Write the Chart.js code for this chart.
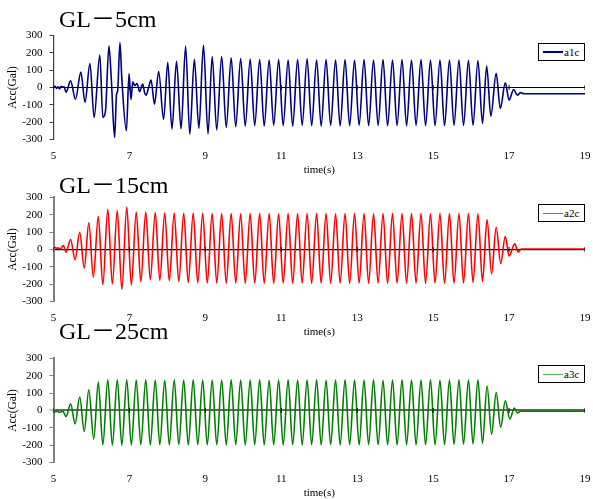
<!DOCTYPE html>
<html>
<head>
<meta charset="utf-8">
<script src="https://cdn.jsdelivr.net/npm/chart.js@4.4.1/dist/chart.umd.min.js"></script>
<style>
  html, body { margin:0; padding:0; background:#fff; }
  body { position:relative; width:593px; height:499px; overflow:hidden; }
  canvas { position:absolute; left:0; }
  .ttl { position:absolute; left:59px; font-family:'Liberation Serif','Noto Sans CJK JP','Times New Roman',serif; font-size:24px; line-height:24px; color:#000; white-space:nowrap; z-index:5; }
  .lg { position:absolute; left:538px; width:47px; height:18px; border:1px solid #000; background:#fff; box-sizing:border-box; z-index:5; }
  .lg .ln { position:absolute; left:4px; top:7.5px; width:20px; height:1.8px; }
  .lg .tx { position:absolute; left:25px; top:1px; font-family:'Liberation Serif','Times New Roman',serif; font-size:11px; line-height:14px; color:#000; }
</style>
</head>
<body>
<canvas id="c1" width="600" height="177" style="top:0px"></canvas>
<canvas id="c2" width="600" height="177" style="top:162px"></canvas>
<canvas id="c3" width="600" height="177" style="top:323px"></canvas>

<div class="ttl" style="top:7px">GL－5cm</div>
<div class="ttl" style="top:173px">GL－15cm</div>
<div class="ttl" style="top:318.5px">GL－25cm</div>

<div class="lg" style="top:42.5px"><div class="ln" style="background:#000080"></div><div class="tx">a1c</div></div>
<div class="lg" style="top:204px"><div class="ln" style="background:#f03c3c"></div><div class="tx">a2c</div></div>
<div class="lg" style="top:365px"><div class="ln" style="background:#4fae4f"></div><div class="tx">a3c</div></div>

<script>
// ---------- data ----------
const panelTitles = ['GL－5cm', 'GL－15cm', 'GL－25cm'];
const seriesNames = ['a1c', 'a2c', 'a3c'];
const xTickValues = [5, 7, 9, 11, 13, 15, 17, 19];
const yTickValues = [-300, -200, -100, 0, 100, 200, 300];

// a1c (GL-5cm): time (s) and acceleration (Gal) at extrema
const t1 = [5.00, 5.04, 5.08, 5.12, 5.16, 5.20, 5.24, 5.28, 5.33, 5.45, 5.58, 5.72, 5.83, 5.96, 6.07, 6.22, 6.30, 6.37, 6.46, 6.52,
  6.61, 6.66, 6.69, 6.75, 6.80, 6.92, 6.99, 7.04, 7.09, 7.14, 7.20, 7.27, 7.31, 7.35, 7.40, 7.44, 7.50, 7.57, 7.66, 7.77,
  7.90, 8.01, 8.12, 8.24, 8.36, 8.48, 8.59, 8.71, 8.83, 8.95, 9.07,
  9.18, 9.30, 9.43, 9.55, 9.68, 9.80, 9.93, 10.05, 10.18, 10.30, 10.43, 10.55, 10.68, 10.80, 10.93, 11.05, 11.18, 11.30, 11.43, 11.55,
  11.68, 11.80, 11.93, 12.05, 12.18, 12.30, 12.43, 12.55, 12.68, 12.80, 12.93, 13.05, 13.18, 13.30, 13.43, 13.55, 13.68, 13.80, 13.93, 14.05,
  14.18, 14.30, 14.43, 14.55, 14.68, 14.80, 14.93, 15.05, 15.18, 15.30, 15.43, 15.55, 15.68, 15.80, 15.93, 16.05, 16.18, 16.30,
  16.41, 16.52, 16.66, 16.77, 16.90, 17.00, 17.12, 17.22, 17.30, 17.40, 19.00];
const v1 = [0, 6, -6, 4, -8, 6, 2, 4, -28, 38, -68, 88, -85, 138, -173, 187, -173, -135, 238, 60,
  -288, -40, -20, 258, 50, -250, 80, -70, 33, 10, 23, -25, 0, 20, -30, -45, -5, 42, -96, 92,
  -184, 144, -240, 150, -238, 238, -270, 162, -235, 244, -268,
  178, -245, 178, -230, 170, -226, 166, -222, 163, -220, 160, -222, 158, -218, 160, -220, 157, -222, 160, -218,
  165, -220, 158, -222, 160, -219, 158, -221, 160, -220, 157, -218, 160, -220, 158, -219, 160, -221, 157, -219,
  160, -220, 158, -218, 160, -220, 157, -219, 158, -220, 157, -218, 158, -219, 156, -217, 155, -208,
  123, -165, 81, -121, 27, -73, -12, -44, -30, -36, -36];

// a2c (GL-15cm)
const t2 = [5.00, 5.04, 5.08, 5.12, 5.16, 5.20, 5.26, 5.33, 5.45, 5.57, 5.69, 5.81, 5.93, 6.05, 6.18, 6.30, 6.43, 6.55, 6.68, 6.80,
  6.93, 7.05, 7.18, 7.30, 7.43, 7.55, 7.68, 7.80, 7.93, 8.05, 8.18, 8.30, 8.43, 8.55, 8.68, 8.80, 8.93, 9.05, 9.18, 9.30,
  9.43, 9.55, 9.68, 9.80, 9.93, 10.05, 10.18, 10.30, 10.43, 10.55, 10.68, 10.80, 10.93, 11.05, 11.18, 11.30, 11.43, 11.55, 11.68, 11.80,
  11.93, 12.05, 12.18, 12.30, 12.43, 12.55, 12.68, 12.80, 12.93, 13.05, 13.18, 13.30, 13.43, 13.55, 13.68, 13.80, 13.93, 14.05, 14.18, 14.30,
  14.43, 14.55, 14.68, 14.80, 14.93, 15.05, 15.18, 15.30, 15.43, 15.55, 15.68, 15.80, 15.93, 16.05, 16.18, 16.30,
  16.42, 16.54, 16.66, 16.78, 16.90, 17.00, 17.15, 17.24, 17.32, 19.00];
const v2 = [8, 12, 6, 10, 4, 8, 23, -15, 57, -59, 99, -107, 153, -159, 191, -203, 231, -199, 224, -229,
  244, -205, 215, -185, 215, -175, 212, -178, 210, -180, 210, -185, 208, -190, 210, -192, 208, -193, 207, -194,
  206, -195, 207, -194, 205, -195, 207, -194, 206, -195, 207, -195, 205, -194, 207, -195, 206, -194, 207, -195,
  206, -194, 207, -195, 205, -194, 207, -195, 206, -194, 207, -195, 205, -194, 207, -195, 206, -194, 207, -195,
  206, -194, 207, -195, 205, -194, 207, -195, 206, -194, 207, -193, 206, -190, 205, -185,
  172, -140, 128, -82, 76, -38, 32, -15, 3, 3];

// a3c (GL-25cm)
const t3 = [5.00, 5.05, 5.10, 5.15, 5.20, 5.25, 5.33, 5.45, 5.57, 5.69, 5.81, 5.93, 6.06, 6.18, 6.30, 6.43, 6.55,
  6.68, 6.80, 6.93, 7.05, 7.18, 7.30, 7.43, 7.55, 7.68, 7.80, 7.93, 8.05, 8.18, 8.30, 8.43, 8.55, 8.68, 8.80, 8.93, 9.05,
  9.18, 9.30, 9.43, 9.55, 9.68, 9.80, 9.93, 10.05, 10.18, 10.30, 10.43, 10.55, 10.68, 10.80, 10.93, 11.05, 11.18, 11.30, 11.43, 11.55,
  11.68, 11.80, 11.93, 12.05, 12.18, 12.30, 12.43, 12.55, 12.68, 12.80, 12.93, 13.05, 13.18, 13.30, 13.43, 13.55, 13.68, 13.80, 13.93, 14.05,
  14.18, 14.30, 14.43, 14.55, 14.68, 14.80, 14.93, 15.05, 15.18, 15.30, 15.43, 15.55, 15.68, 15.80, 15.93, 16.05, 16.18, 16.30,
  16.42, 16.54, 16.66, 16.78, 16.90, 17.02, 17.14, 17.22, 17.30, 19.00];
const v3 = [0, -8, -5, -10, -8, -5, -35, 38, -77, 77, -121, 119, -165, 163, -198, 177, -200,
  177, -200, 176, -198, 175, -197, 176, -198, 175, -197, 174, -198, 176, -197, 175, -198, 176, -197, 175, -198,
  174, -197, 175, -198, 176, -197, 175, -198, 175, -197, 176, -198, 174, -197, 175, -198, 176, -197, 175, -198,
  175, -197, 176, -198, 174, -197, 175, -198, 176, -197, 175, -198, 175, -197, 176, -198, 174, -197, 175, -198,
  176, -197, 175, -198, 175, -197, 176, -198, 174, -196, 175, -195, 176, -194, 175, -192, 176, -188,
  141, -136, 103, -96, 56, -50, 14, -15, -5, -5];

// ---------- chart building ----------
const SERIF = "'Liberation Serif','Times New Roman',serif";

function makePanel(canvasId, times, vals, name, style) {
  const pts = times.map((t, i) => ({ x: t, y: vals[i] }));
  const tickPts = xTickValues.map(v => ({ x: v, y: 0 }));
  return new Chart(document.getElementById(canvasId), {
    type: 'line',
    data: {
      datasets: [
        { label: name, data: pts, borderColor: style.color, borderWidth: 1.6, pointRadius: 0,
          cubicInterpolationMode: 'monotone', fill: false, order: 2 },
        { label: 'ticks', data: tickPts, showLine: false, pointStyle: 'line', rotation: 90,
          pointRadius: 2.5, borderColor: '#000', borderWidth: 1, order: 1 }
      ]
    },
    options: {
      animation: false, responsive: false, maintainAspectRatio: false,
      layout: { padding: { top: 35.3, left: 0, right: 12.3, bottom: 0 } },
      plugins: { legend: { display: false }, tooltip: { enabled: false }, title: { display: false } },
      scales: {
        x: {
          type: 'linear', min: 5, max: 19,
          afterBuildTicks: s => { s.ticks = xTickValues.map(v => ({ value: v })); },
          ticks: { padding: 9.5, color: '#000', font: { family: SERIF, size: 11 }, maxRotation: 0, autoSkip: false },
          grid: { display: false, drawTicks: false },
          border: { display: false },
          title: { display: true, text: 'time(s)', color: '#000', font: { family: SERIF, size: 11 }, padding: { top: 0, bottom: 0.5 } },
          afterFit: s => { s.height = 37.4; }
        },
        y: {
          min: -300, max: 300, z: 1,
          afterBuildTicks: s => { s.ticks = yTickValues.map(v => ({ value: v })); },
          ticks: { padding: 7, color: '#000', font: { family: SERIF, size: 11 } },
          grid: {
            drawOnChartArea: true, drawTicks: true, tickLength: 4,
            color: c => (c.tick && c.tick.value === 0) ? style.zeroColor : 'rgba(0,0,0,0)',
            lineWidth: c => (c.tick && c.tick.value === 0) ? style.zeroWidth : 1,
            tickColor: style.axisColor, tickWidth: 1
          },
          border: { display: true, color: style.axisColor, width: style.axisWidth },
          title: { display: true, text: 'Acc(Gal)', color: '#000', font: { family: SERIF, size: 11.5 }, padding: { top: 6, bottom: 0 } },
          afterFit: s => { s.width = 53.5; }
        }
      }
    }
  });
}

makePanel('c1', t1, v1, seriesNames[0], { color: '#000080', zeroColor: '#000', zeroWidth: 1, axisColor: '#404040', axisWidth: 1.2 });
makePanel('c2', t2, v2, seriesNames[1], { color: '#ff0000', zeroColor: '#000', zeroWidth: 1.2, axisColor: '#808080', axisWidth: 2 });
makePanel('c3', t3, v3, seriesNames[2], { color: '#008000', zeroColor: '#666', zeroWidth: 2, axisColor: '#808080', axisWidth: 2 });
</script>
</body>
</html>
